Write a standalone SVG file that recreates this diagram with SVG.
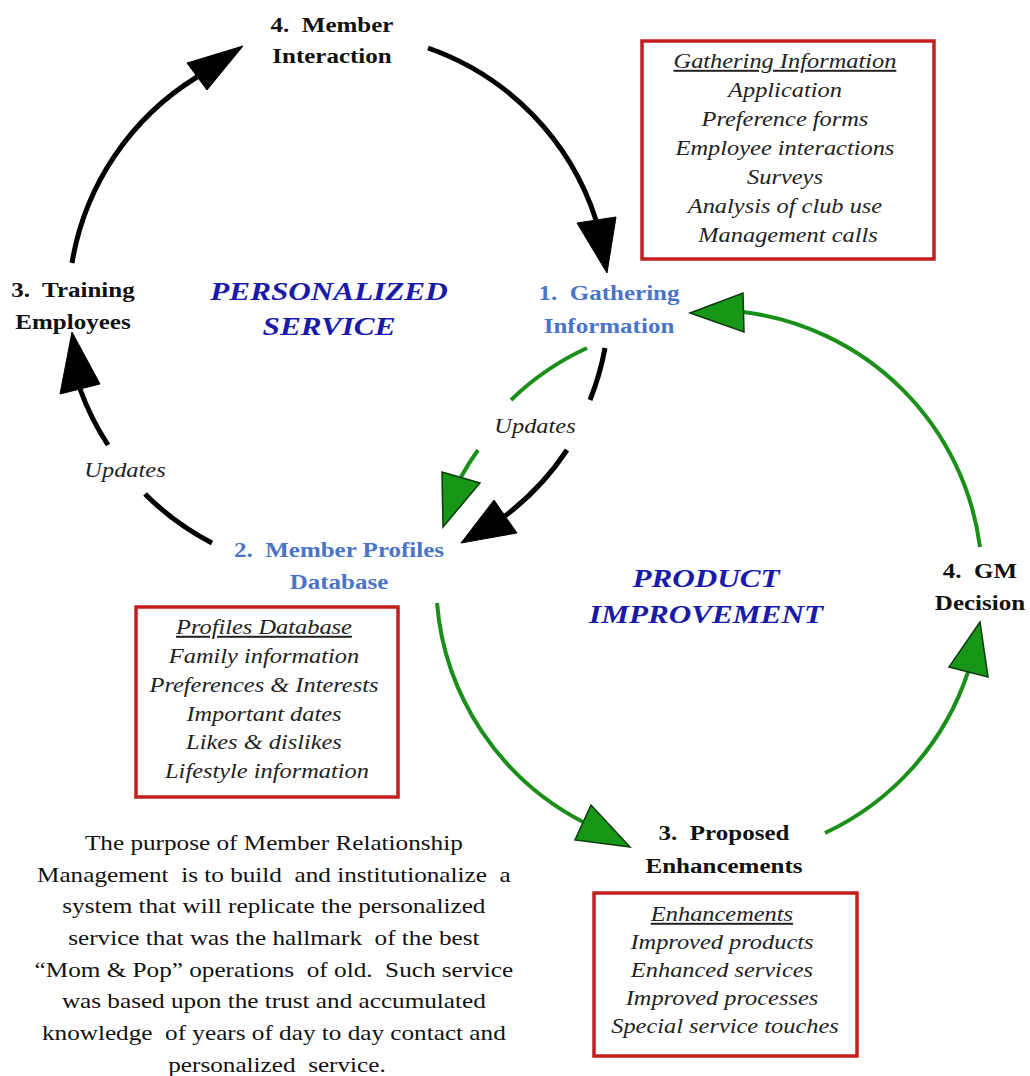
<svg xmlns="http://www.w3.org/2000/svg" width="1030" height="1076" viewBox="0 0 1030 1076">
<style>
text { font-family: "Liberation Serif", "Times New Roman", serif; text-anchor: middle; }
.lbl { font-weight: bold; font-size: 20.5px; fill: #111; }
.blue { fill: #4a74c8; }
.big { font-weight: bold; font-style: italic; font-size: 26px; fill: #1a1aa8; }
.it { font-style: italic; font-size: 20px; fill: #222; }
.para { font-size: 21px; fill: #111; }
.hd { text-decoration: underline; }
.box { fill: none; stroke: #c41e1e; stroke-width: 3.5; }
.blk { fill: none; stroke: #000; stroke-width: 5; }
.grn { fill: none; stroke: #1a8f1a; stroke-width: 4; }
.ahb { fill: #000; stroke: #000; stroke-width: 1; stroke-linejoin: miter; }
.ahg { fill: #189618; stroke: #0b3a0b; stroke-width: 1.5; stroke-linejoin: miter; }
</style>
<rect width="1030" height="1076" fill="#fff"/>

<g id="connectors">
  <!-- Personalized service loop (black) -->
  <path class="blk" d="M428,48 A270,270 0 0 1 596,220"/>
  <polygon class="ahb" points="607,273 577,223 616,217"/>
  <path class="blk" d="M605,348 A270,270 0 0 1 590,400"/>
  <path class="blk" d="M567,450 A270,270 0 0 1 505,516"/>
  <polygon class="ahb" points="461,543 494,500 517,533"/>
  <path class="blk" d="M212,543 A270,270 0 0 1 145,494"/>
  <path class="blk" d="M108,445 A270,270 0 0 1 80,389"/>
  <polygon class="ahb" points="72,332 60,394 100,384"/>
  <path class="blk" d="M72,263 A270,270 0 0 1 197,77"/>
  <polygon class="ahb" points="243,46 187,63 207,90"/>
  <!-- Product improvement loop (green) -->
  <path class="grn" d="M587,348 A272,272 0 0 0 511,400"/>
  <path class="grn" d="M478,450 A272,272 0 0 0 461,477"/>
  <polygon class="ahg" points="443,527 442,472 480,483"/>
  <path class="grn" d="M437,603 A272,272 0 0 0 583,822"/>
  <polygon class="ahg" points="630,847 591,805 575,840"/>
  <path class="grn" d="M825,833 A272,272 0 0 0 968,672"/>
  <polygon class="ahg" points="980,622 949,667 988,677"/>
  <path class="grn" d="M980,547 A272,272 0 0 0 743,312"/>
  <polygon class="ahg" points="690,313 743,293 744,332"/>
  <!-- connector labels -->
  <text class="it" transform="translate(125 0) scale(1.22 1)" x="0" y="477">Updates</text>
  <text class="it" transform="translate(535 0) scale(1.22 1)" x="0" y="433">Updates</text>
</g>

<g id="node-member-interaction">
  <text class="lbl" transform="translate(332 0) scale(1.22 1)"><tspan x="0" y="32">4.&#160; Member</tspan><tspan x="0" y="63">Interaction</tspan></text>
</g>
<g id="node-training-employees">
  <text class="lbl" transform="translate(73 0) scale(1.22 1)"><tspan x="0" y="297">3.&#160; Training</tspan><tspan x="0" y="329">Employees</tspan></text>
</g>
<g id="node-gathering-information">
  <text class="lbl blue" transform="translate(609 0) scale(1.22 1)"><tspan x="0" y="300">1.&#160; Gathering</tspan><tspan x="0" y="333">Information</tspan></text>
</g>
<g id="node-member-profiles">
  <text class="lbl blue" transform="translate(339 0) scale(1.22 1)"><tspan x="0" y="557">2.&#160; Member Profiles</tspan><tspan x="0" y="589">Database</tspan></text>
</g>
<g id="node-proposed-enhancements">
  <text class="lbl" transform="translate(724 0) scale(1.22 1)"><tspan x="0" y="840">3.&#160; Proposed</tspan><tspan x="0" y="873">Enhancements</tspan></text>
</g>
<g id="node-gm-decision">
  <text class="lbl" transform="translate(980 0) scale(1.22 1)"><tspan x="0" y="578">4.&#160; GM</tspan><tspan x="0" y="610">Decision</tspan></text>
</g>

<g id="label-personalized-service">
  <text class="big" transform="translate(329 0) scale(1.2 1)"><tspan x="0" y="300">PERSONALIZED</tspan><tspan x="0" y="335">SERVICE</tspan></text>
</g>
<g id="label-product-improvement">
  <text class="big" transform="translate(706 0) scale(1.2 1)"><tspan x="0" y="587">PRODUCT</tspan><tspan x="0" y="623">IMPROVEMENT</tspan></text>
</g>

<g id="box-gathering-information">
  <rect class="box" x="642" y="41" width="292" height="218"/>
  <text class="it" transform="translate(788 0) scale(1.22 1)">
    <tspan class="hd" x="0" y="68">Gathering Information</tspan>
    <tspan x="0" y="97">Application</tspan>
    <tspan x="0" y="126">Preference forms</tspan>
    <tspan x="0" y="155">Employee interactions</tspan>
    <tspan x="0" y="184">Surveys</tspan>
    <tspan x="0" y="213">Analysis of club use</tspan>
    <tspan x="0" y="242">Management calls</tspan>
  </text>
</g>
<g id="box-profiles-database">
  <rect class="box" x="136" y="607" width="262" height="190"/>
  <text class="it" transform="translate(267 0) scale(1.22 1)">
    <tspan class="hd" x="0" y="634">Profiles Database</tspan>
    <tspan x="0" y="663">Family information</tspan>
    <tspan x="0" y="692">Preferences &amp; Interests</tspan>
    <tspan x="0" y="721">Important dates</tspan>
    <tspan x="0" y="749">Likes &amp; dislikes</tspan>
    <tspan x="0" y="778">Lifestyle information</tspan>
  </text>
</g>
<g id="box-enhancements">
  <rect class="box" x="594" y="893" width="263" height="163"/>
  <text class="it" transform="translate(725 0) scale(1.22 1)">
    <tspan class="hd" x="0" y="921">Enhancements</tspan>
    <tspan x="0" y="949">Improved products</tspan>
    <tspan x="0" y="977">Enhanced services</tspan>
    <tspan x="0" y="1005">Improved processes</tspan>
    <tspan x="0" y="1033">Special service touches</tspan>
  </text>
</g>

<g id="paragraph">
  <text class="para" transform="translate(277 0) scale(1.2 1)">
    <tspan x="0" y="850">The purpose of Member Relationship</tspan>
    <tspan x="0" y="882">Management&#160; is to build&#160; and institutionalize&#160; a</tspan>
    <tspan x="0" y="913">system that will replicate the personalized</tspan>
    <tspan x="0" y="945">service that was the hallmark&#160; of the best</tspan>
    <tspan x="0" y="977">“Mom &amp; Pop” operations&#160; of old.&#160; Such service</tspan>
    <tspan x="0" y="1008">was based upon the trust and accumulated</tspan>
    <tspan x="0" y="1040">knowledge&#160; of years of day to day contact and</tspan>
    <tspan x="0" y="1072">personalized&#160; service.</tspan>
  </text>
</g>
</svg>
